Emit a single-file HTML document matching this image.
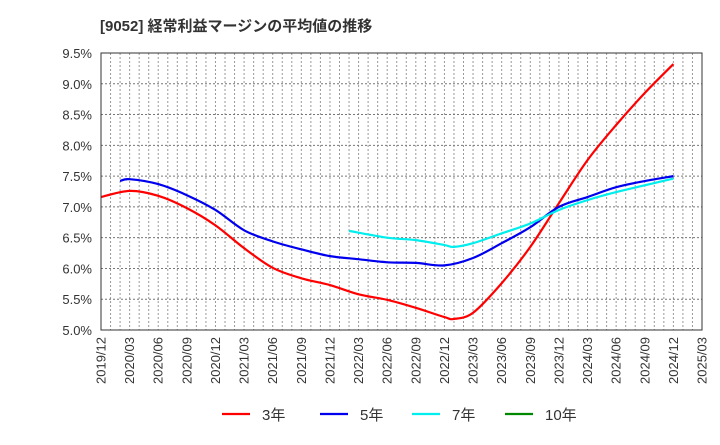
<!DOCTYPE html>
<html><head><meta charset="utf-8"><style>
body{margin:0;background:#fff;font-family:"Liberation Sans","Noto Sans CJK JP",sans-serif;}
svg text{font-family:"Liberation Sans","Noto Sans CJK JP",sans-serif;}
</style></head><body>
<svg id="chart" width="720" height="440" xmlns="http://www.w3.org/2000/svg">
<text x="100" y="31" font-size="15" font-weight="bold" fill="#333">[9052]  経常利益マージンの平均値の推移</text>
<g id="grid"></g>
<g id="yaxis"></g>
<g id="xaxis"></g>
<g id="series"></g>
<rect x="101" y="53" width="601" height="277" fill="none" stroke="#333" stroke-width="1"/>
<g id="legend"></g>
</svg>
<script>
const xLabels=["2019/12","2020/03","2020/06","2020/09","2020/12","2021/03","2021/06","2021/09","2021/12","2022/03","2022/06","2022/09","2022/12","2023/03","2023/06","2023/09","2023/12","2024/03","2024/06","2024/09","2024/12","2025/03"];
const yTicks=[5.0,5.5,6.0,6.5,7.0,7.5,8.0,8.5,9.0,9.5];
const seriesNames=["3年","5年","7年","10年"];
const seriesColors=["#ff0000","#0000ee","#00eeee","#008800"];
// months since 2019/12
const m3=[0,3,6,9,12,15,18,21,24,27,30,33,36,37,39,42,45,48,51,54,57,60];
const v3=[7.16,7.26,7.18,6.98,6.70,6.33,6.01,5.84,5.73,5.58,5.49,5.36,5.21,5.18,5.28,5.76,6.35,7.06,7.76,8.33,8.85,9.32];
const m5=[2,3,6,9,12,15,18,21,24,27,30,33,36,39,42,45,48,51,54,57,60];
const v5=[7.42,7.45,7.37,7.19,6.95,6.62,6.44,6.31,6.20,6.15,6.10,6.09,6.05,6.17,6.41,6.67,7.00,7.16,7.32,7.42,7.50];
const m7=[26,30,33,36,37,39,42,45,48,51,54,57,60];
const v7=[6.61,6.50,6.46,6.38,6.35,6.41,6.57,6.73,6.95,7.11,7.24,7.35,7.46];
const m10=[];
const v10=[];
const NS="http://www.w3.org/2000/svg";
const X0=101,X1=702,Y0=330,Y1=53,MMAX=63,VMIN=5.0,VMAX=9.5;
const xs=m=>X0+(X1-X0)*m/MMAX;
const ys=v=>Y0-(Y0-Y1)*(v-VMIN)/(VMAX-VMIN);
function mk(tag,attrs,parent){const e=document.createElementNS(NS,tag);for(const k in attrs)e.setAttribute(k,attrs[k]);parent.appendChild(e);return e;}
const grid=document.getElementById('grid'),ya=document.getElementById('yaxis'),xa=document.getElementById('xaxis');
for(let m=1;m<MMAX;m++){const l=mk('line',{x1:xs(m),x2:xs(m),y1:Y1,y2:Y0,stroke:'#999','stroke-width':1,'stroke-dasharray':'2,2'},grid);

}
yTicks.forEach(t=>{const y=ys(t);
const l=mk('line',{x1:X0,x2:X1,y1:y,y2:y,stroke:'#777','stroke-width':1,'stroke-dasharray':'2,2'},grid);


const tx=mk('text',{x:92,y:y+5,'text-anchor':'end','font-size':13,fill:'#333'},ya);


tx.textContent=t.toFixed(1)+'%';});
xLabels.forEach((s,i)=>{const x=xs(i*3);
const tx=mk('text',{x:0,y:0,'text-anchor':'end','font-size':13,fill:'#333',transform:`translate(${x+4.5},337) rotate(-90)`},xa);


tx.textContent=s;});
function path(ms,vs){const p=ms.map((m,i)=>[xs(m),ys(vs[i])]);if(!p.length)return'';let d=`M${p[0][0]},${p[0][1]}`;
for(let i=0;i<p.length-1;i++){const a=p[i-1]||p[i],b=p[i],c=p[i+1],e=p[i+2]||c;
d+=` C${b[0]+(c[0]-a[0])/6},${b[1]+(c[1]-a[1])/6} ${c[0]-(e[0]-b[0])/6},${c[1]-(e[1]-b[1])/6} ${c[0]},${c[1]}`;}return d;}
const ser=document.getElementById('series');
[[m3,v3],[m5,v5],[m7,v7],[m10,v10]].forEach((s,i)=>{if(!s[0].length)return;
const p=mk('path',{d:path(s[0],s[1]),fill:'none',stroke:seriesColors[i],'stroke-width':2.2},ser);

});
const lg=document.getElementById('legend');
const lx=[222,320,412,505];
seriesNames.forEach((n,i)=>{
const l=mk('line',{x1:lx[i],x2:lx[i]+28,y1:414,y2:414,stroke:seriesColors[i],'stroke-width':2.2},lg);


const t=mk('text',{x:lx[i]+40,y:420,'font-size':15,fill:'#333'},lg);


t.textContent=n;});
</script>
</body></html>
